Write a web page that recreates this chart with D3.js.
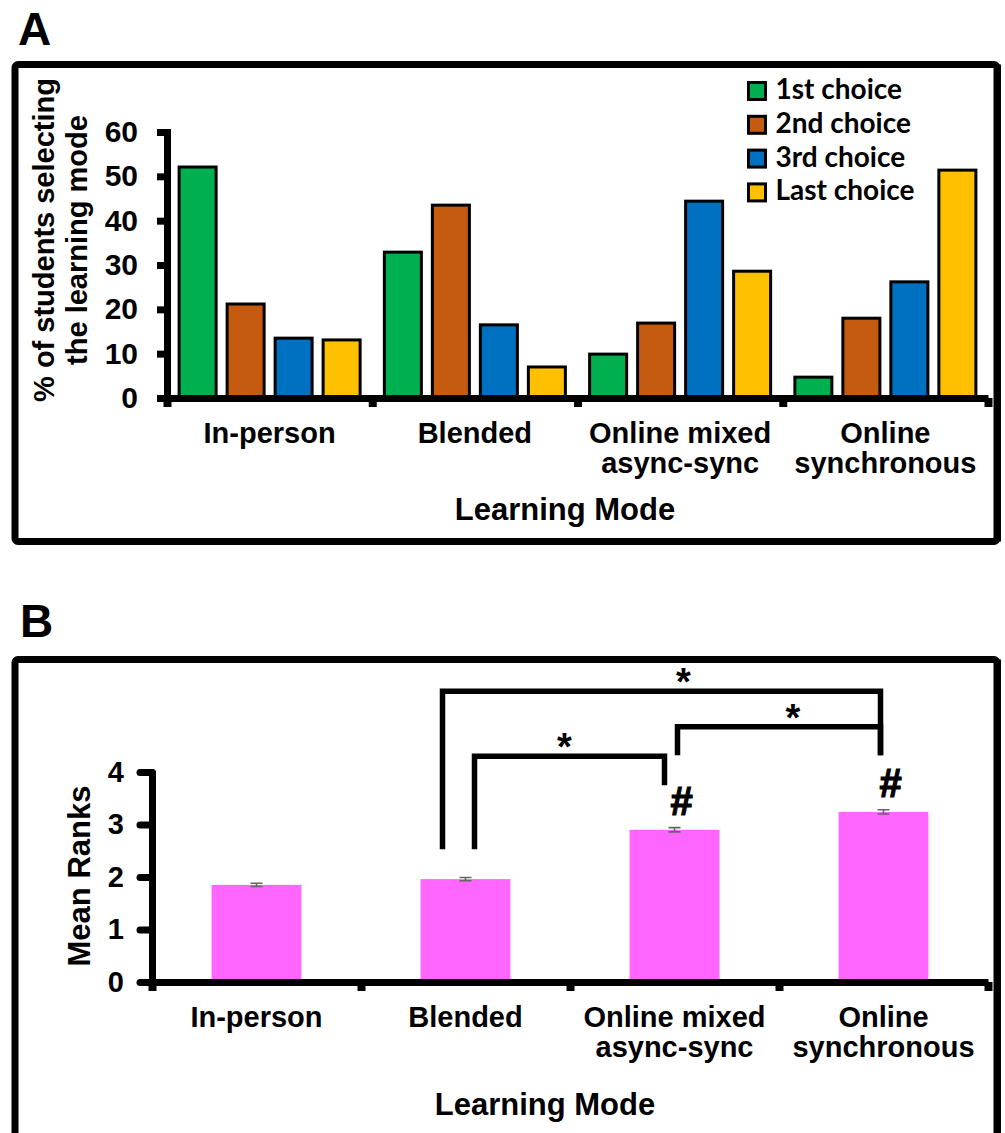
<!DOCTYPE html>
<html>
<head>
<meta charset="utf-8">
<script src="https://cdn.jsdelivr.net/npm/d3@7"></script>
<style>
  html, body { margin: 0; padding: 0; background: #fff; }
  svg { display: block; }
</style>
</head>
<body>
<svg id="fig" width="1005" height="1133"></svg>
<script>
// ---- data ----
const modes = ["In-person", "Blended", "Online mixed async-sync", "Online synchronous"];
const modeLines = [["In-person"], ["Blended"], ["Online mixed", "async-sync"], ["Online", "synchronous"]];
const choices = ["1st choice", "2nd choice", "3rd choice", "Last choice"];

// % of students giving each learning mode the given rank
const firstChoice  = [52.1, 32.9,  9.9,  4.7];
const secondChoice = [21.2, 43.5, 16.9, 18.0];
const thirdChoice  = [13.5, 16.5, 44.4, 26.2];
const lastChoice   = [13.1,  7.0, 28.6, 51.4];
const percentTicks = [0, 10, 20, 30, 40, 50, 60];

// mean rank of each learning mode (± SEM)
const meanRanks  = [1.85, 1.96, 2.90, 3.24];
const rankErrors = [0.03, 0.03, 0.04, 0.04];
const rankTicks  = [0, 1, 2, 3, 4];
const differsFromInPerson = [false, false, true, true];   // "#"
const pairwise = [                                       // "*"
  ["Blended", "Online mixed async-sync"],
  ["Blended", "Online synchronous"],
  ["Online mixed async-sync", "Online synchronous"]
];

// ---- drawing ----
const FONT = "'Liberation Sans', Arial, Helvetica, sans-serif";
const svg = d3.select("#fig");
const seriesA = [firstChoice, secondChoice, thirdChoice, lastChoice];
const choiceColor = d3.scaleOrdinal(choices, ["#00B050", "#C55A11", "#0070C0", "#FFC000"]);

function panelFrame(y, h) {
  svg.append("rect")
    .attr("x", 15).attr("y", y).attr("width", 982).attr("height", h)
    .attr("rx", 3)
    .attr("fill", "none").attr("stroke", "#000").attr("stroke-width", 7);
  svg.append("line")
    .attr("x1", 999.5).attr("x2", 999.5).attr("y1", y).attr("y2", y + h)
    .attr("stroke", "#000").attr("stroke-width", 3);
}

function panelLetter(t, x, y) {
  svg.append("text").attr("x", x).attr("y", y).text(t)
    .attr("font-family", FONT).attr("font-weight", 700).attr("font-size", 46);
}

function styleAxis(g, width, cap, size) {
  g.attr("font-family", FONT).attr("font-size", size).attr("font-weight", 700);
  g.select(".domain").attr("stroke-width", width).attr("stroke-linecap", cap);
  g.selectAll(".tick line").attr("stroke-width", width).attr("stroke-linecap", cap === "round" ? "round" : "butt");
  g.selectAll(".tick text").attr("fill", "#000");
}

function categoryLabels(xScale, baseline, size) {
  modes.forEach((m, i) => {
    const t = svg.append("text")
      .attr("text-anchor", "middle")
      .attr("font-family", FONT).attr("font-weight", 700).attr("font-size", size);
    modeLines[i].forEach((line, k) => {
      t.append("tspan")
        .attr("x", xScale(m) + xScale.bandwidth() / 2)
        .attr("y", baseline + k * 29.5)
        .text(line);
    });
  });
}

function boundaryAxis(x0, x1, y) {
  const b = d3.scaleLinear([0, modes.length], [x0, x1]);
  const g = svg.append("g").attr("transform", `translate(0,${y})`)
    .call(d3.axisBottom(b).tickValues(d3.range(modes.length + 1)).tickSize(9).tickSizeOuter(0).tickFormat(""));
  g.select(".domain").attr("stroke-width", 7);
  g.selectAll(".tick line").attr("stroke-width", 8);
}

// ===== Panel A =====
panelLetter("A", 18, 45);
panelFrame(64.5, 477);

const xA = d3.scaleBand(modes, [167, 988]);
const xInner = d3.scaleBand(choices, [0, xA.bandwidth()]).paddingInner(0.229).paddingOuter(0.2525);
const yA = d3.scaleLinear([0, 60], [398, 132]);

const groupsA = svg.append("g").selectAll("g").data(modes).join("g")
  .attr("transform", d => `translate(${xA(d)},0)`);
groupsA.selectAll("rect")
  .data((m, i) => choices.map((c, j) => ({ choice: c, value: seriesA[j][i] })))
  .join("rect")
  .attr("x", d => xInner(d.choice))
  .attr("y", d => yA(d.value))
  .attr("width", xInner.bandwidth())
  .attr("height", d => yA(0) - yA(d.value))
  .attr("fill", d => choiceColor(d.choice))
  .attr("stroke", "#000").attr("stroke-width", 3);

boundaryAxis(167, 988, 398);
const gyA = svg.append("g").attr("transform", "translate(167,0)")
  .call(d3.axisLeft(yA).tickValues(percentTicks).tickSize(10).tickSizeOuter(0)
    .tickPadding(19).tickFormat(d3.format("d")));
styleAxis(gyA, 7, "square", 30);

categoryLabels(xA, 443, 29);

svg.append("text")
  .attr("x", 565).attr("y", 520).attr("text-anchor", "middle")
  .attr("font-family", FONT).attr("font-weight", 700).attr("font-size", 31)
  .text("Learning Mode");

const yTitleA = svg.append("text")
  .attr("transform", "translate(0,240) rotate(-90)")
  .attr("text-anchor", "middle")
  .attr("font-family", FONT).attr("font-weight", 700).attr("font-size", 29);
yTitleA.append("tspan").attr("x", 0).attr("y", 54).text("% of students selecting");
yTitleA.append("tspan").attr("x", 0).attr("y", 87).text("the learning mode");

// legend
const legend = svg.append("g").selectAll("g").data(choices).join("g")
  .attr("transform", (d, i) => `translate(748.5,${82.5 + i * 33.8})`);
legend.append("rect")
  .attr("width", 17).attr("height", 17)
  .attr("fill", d => choiceColor(d))
  .attr("stroke", "#000").attr("stroke-width", 3);
legend.append("text")
  .attr("x", 27).attr("y", 16.5)
  .attr("font-family", "Lato, 'Open Sans', sans-serif").attr("font-weight", 700).attr("font-size", 28)
  .text(d => d);

// ===== Panel B =====
panelLetter("B", 20, 637);
panelFrame(659.5, 520);

const xB = d3.scaleBand(modes, [152, 988]).paddingInner(0.57).paddingOuter(0.285);
const yB = d3.scaleLinear([0, 4], [982, 772]);
const cx = m => xB(m) + xB.bandwidth() / 2;

svg.append("g").selectAll("rect").data(modes).join("rect")
  .attr("x", d => xB(d))
  .attr("y", (d, i) => yB(meanRanks[i]))
  .attr("width", xB.bandwidth())
  .attr("height", (d, i) => yB(0) - yB(meanRanks[i]))
  .attr("fill", "#FF66FF");

// error bars
const eb = svg.append("g").attr("stroke", "#666").attr("stroke-width", 1.6).attr("fill", "none");
modes.forEach((m, i) => {
  const lo = yB(meanRanks[i] - rankErrors[i]), hi = yB(meanRanks[i] + rankErrors[i]);
  eb.append("path").attr("d",
    `M${cx(m)},${lo}V${hi}M${cx(m) - 6},${lo}H${cx(m) + 6}M${cx(m) - 6},${hi}H${cx(m) + 6}`);
});

boundaryAxis(152, 988, 982);
const gyB = svg.append("g").attr("transform", "translate(152,0)")
  .call(d3.axisLeft(yB).tickValues(rankTicks).tickSize(12).tickSizeOuter(0)
    .tickPadding(16).tickFormat(d3.format("d")));
styleAxis(gyB, 7, "round", 29);

categoryLabels(xB, 1027, 29);

svg.append("text")
  .attr("x", 545).attr("y", 1115).attr("text-anchor", "middle")
  .attr("font-family", FONT).attr("font-weight", 700).attr("font-size", 31)
  .text("Learning Mode");

svg.append("text")
  .attr("transform", "translate(0,876) rotate(-90)")
  .attr("text-anchor", "middle")
  .attr("font-family", FONT).attr("font-weight", 700).attr("font-size", 31)
  .append("tspan").attr("x", 0).attr("y", 90).text("Mean Ranks");

// "#": differs from in-person
modes.forEach((m, i) => {
  if (!differsFromInPerson[i]) return;
  svg.append("text")
    .attr("x", cx(m) + 7).attr("y", yB(meanRanks[i] + rankErrors[i]) - 13)
    .attr("text-anchor", "middle")
    .attr("font-family", FONT).attr("font-weight", 700).attr("font-size", 40)
    .attr("stroke", "#000").attr("stroke-width", 1.2)
    .text("#");
});

// "*": pairwise brackets (leg offsets / heights in rank units)
const bracketLayout = [
  { dxA:   9, dxB: -10, top: 4.30, endA: 2.53, endB: 3.75, starDx:  -5 },
  { dxA: -23, dxB:  -3, top: 5.54, endA: 2.53, endB: 4.32, starDx:  22 },
  { dxA:   3, dxB:  -3, top: 4.86, endA: 4.32, endB: 4.32, starDx:  14 }
];
const br = svg.append("g").attr("stroke", "#000").attr("stroke-width", 5.5)
  .attr("fill", "none").attr("stroke-linejoin", "miter");
pairwise.forEach(([a, b], k) => {
  const L = bracketLayout[k];
  const xa = cx(a) + L.dxA, xb = cx(b) + L.dxB;
  br.append("path").attr("d",
    `M${xa},${yB(L.endA)}V${yB(L.top)}H${xb}V${yB(L.endB)}`);
  svg.append("text")
    .attr("x", (xa + xb) / 2 + L.starDx).attr("y", yB(L.top) + 4)
    .attr("text-anchor", "middle")
    .attr("font-family", FONT).attr("font-weight", 700).attr("font-size", 38)
    .text("*");
});
</script>
</body>
</html>
